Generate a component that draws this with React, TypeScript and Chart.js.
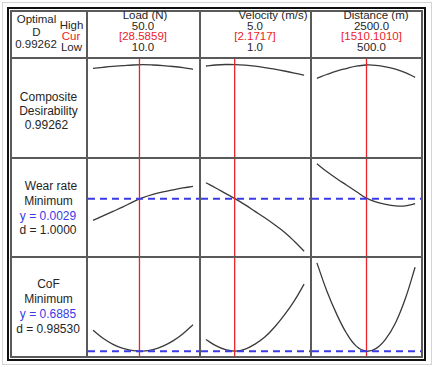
import React, { useEffect, useRef } from "react";
import { Chart, registerables } from "chart.js";

Chart.register(...registerables);

// ---- Data ----
const factorNames = ["Load (N)", "Velocity (m/s)", "Distance (m)"];
const factorLow = [10, 1, 500];
const factorHigh = [50, 5, 2500];
const factorCur = [28.5859, 2.1717, 1510.101];
const highLabels = ["50.0", "5.0", "2500.0"];
const curLabels = ["[28.5859]", "[2.1717]", "[1510.1010]"];
const lowLabels = ["10.0", "1.0", "500.0"];

const loadLevels = [10, 14, 18, 22, 26, 30, 34, 38, 42, 46, 50];
const velocityLevels = [1, 1.4, 1.8, 2.2, 2.6, 3.0, 3.4, 3.8, 4.2, 4.6, 5.0];
const distanceLevels = [500, 700, 900, 1100, 1300, 1500, 1700, 1900, 2100, 2300, 2500];

const compositeLoad = [0.951, 0.9625, 0.9727, 0.9807, 0.9886, 0.992, 0.9886, 0.9818, 0.9716, 0.958, 0.9398];
const compositeVelocity = [0.9773, 0.9886, 0.9943, 0.9932, 0.9864, 0.975, 0.9591, 0.9409, 0.9205, 0.8977, 0.8727];
const compositeDistance = [0.8375, 0.8807, 0.9205, 0.9489, 0.975, 0.9886, 0.9852, 0.9682, 0.9409, 0.9023, 0.8489];

const wearLoad = [0.00203, 0.00221, 0.00239, 0.00257, 0.00277, 0.00294, 0.00307, 0.00317, 0.00325, 0.00333, 0.00339];
const wearVelocity = [0.00354, 0.00333, 0.00311, 0.00289, 0.00265, 0.00239, 0.00213, 0.00185, 0.00155, 0.00119, 0.00079];
const wearDistance = [0.0043, 0.00399, 0.00371, 0.00345, 0.00319, 0.00293, 0.00277, 0.00267, 0.00261, 0.00261, 0.0027];

const cofLoad = [0.7299, 0.7141, 0.7021, 0.6939, 0.6895, 0.6887, 0.6917, 0.6985, 0.7089, 0.7231, 0.7411];
const cofVelocity = [0.7115, 0.6995, 0.6915, 0.6885, 0.6925, 0.7025, 0.7165, 0.7365, 0.7605, 0.7885, 0.8215];
const cofDistance = [0.8639, 0.8085, 0.7625, 0.7245, 0.6985, 0.6885, 0.6935, 0.7125, 0.7445, 0.7925, 0.8551];

const optimalD = "0.99262";
const wearTarget = 0.0029;
const cofTarget = 0.6885;
const wearLabel = ["Wear rate", "Minimum", "y = 0.0029", "d = 1.0000"];
const cofLabel = ["CoF", "Minimum", "y = 0.6885", "d = 0.98530"];

// ---- Layout ----
const FONT = '"Liberation Sans", Arial, sans-serif';
const BLACK = "#262626";
const RED = "#ec2228";
const BLUE = "#3a3ae6";
const GRID = "#5a5a5a";

const colX = [88, 201, 312];
const colW = [111, 109, 109];
const rowY = [59, 159, 258];
const rowH = [98, 97, 98];

function padRange(min: number, max: number, f: number) {
  const s = max - min;
  return [min - f * s, max + f * s];
}

type PanelProps = {
  left: number; top: number; w: number; h: number;
  xs: number[]; ys: number[]; lo: number; hi: number; cur: number;
  yMin: number; yMax: number; target?: number;
};

function Panel(p: PanelProps) {
  const ref = useRef<HTMLCanvasElement>(null);
  useEffect(() => {
    const span = p.hi - p.lo;
    const xMin = p.lo - 0.05 * span;
    const xMax = p.hi + 0.06 * span;
    const datasets: any[] = [];
    if (p.target !== undefined) {
      datasets.push({
        data: [{ x: xMin, y: p.target }, { x: xMax, y: p.target }],
        borderColor: BLUE, borderWidth: 2, borderDash: [7, 5], pointRadius: 0,
      });
    }
    datasets.push({
      data: [{ x: p.cur, y: p.yMin }, { x: p.cur, y: p.yMax }],
      borderColor: RED, borderWidth: 1.3, pointRadius: 0,
    });
    datasets.push({
      data: p.xs.map((v, i) => ({ x: v, y: p.ys[i] })),
      borderColor: "#3a3a3a", borderWidth: 1.3, pointRadius: 0, tension: 0.4,
    });
    const chart = new Chart(ref.current!, {
      type: "line",
      data: { datasets },
      options: {
        animation: false,
        responsive: false,
        maintainAspectRatio: false,
        devicePixelRatio: 1,
        layout: { padding: 0 },
        plugins: { legend: { display: false }, tooltip: { enabled: false }, title: { display: false } },
        scales: {
          x: { type: "linear", display: false, min: xMin, max: xMax },
          y: { type: "linear", display: false, min: p.yMin, max: p.yMax },
        },
      },
    });
    return () => chart.destroy();
  }, []);
  return (
    <canvas
      ref={ref}
      width={p.w}
      height={p.h}
      style={{ position: "absolute", left: p.left, top: p.top, width: p.w, height: p.h }}
    />
  );
}

function T(props: { x: number; y: number; text: string; color?: string; size?: number }) {
  return (
    <div
      style={{
        position: "absolute", left: props.x, top: props.y,
        transform: "translate(-50%, -50%)", whiteSpace: "nowrap",
        fontFamily: FONT, fontSize: props.size ?? 11.5, lineHeight: 1,
        color: props.color ?? BLACK,
      }}
    >
      {props.text}
    </div>
  );
}

function Line(props: { x: number; y: number; w: number; h: number; c?: string }) {
  return (
    <div style={{ position: "absolute", left: props.x, top: props.y, width: props.w, height: props.h, background: props.c ?? GRID }} />
  );
}

export default function App() {
  const levels = [loadLevels, velocityLevels, distanceLevels];
  const compRange = padRange(0, 1, 0.057);
  const wearAll = [...wearLoad, ...wearVelocity, ...wearDistance];
  const wearRange = padRange(Math.min(...wearAll), Math.max(...wearAll), 0.055);
  const cofAll = [...cofLoad, ...cofVelocity, ...cofDistance];
  const cofRange = padRange(Math.min(...cofAll), Math.max(...cofAll), 0.055);

  const rows = [
    { ys: [compositeLoad, compositeVelocity, compositeDistance], range: compRange, target: undefined as number | undefined },
    { ys: [wearLoad, wearVelocity, wearDistance], range: wearRange, target: wearTarget },
    { ys: [cofLoad, cofVelocity, cofDistance], range: cofRange, target: cofTarget },
  ];

  const titleX = [145, 273, 376];
  const numX = [143, 255, 371.5];

  return (
    <div style={{ position: "absolute", left: 0, top: 0, width: 434, height: 367, background: "#fff", overflow: "hidden" }}>
      {/* outer faint frame */}
      <div style={{ position: "absolute", left: 2, top: 2, width: 430, height: 363, border: "1px solid #d4d4d4", boxSizing: "border-box" }} />
      {/* black frame */}
      <div style={{ position: "absolute", left: 7, top: 7, width: 419, height: 354, border: "2px solid #111", boxSizing: "border-box" }} />
      {/* table border */}
      <div style={{ position: "absolute", left: 10, top: 10, width: 413, height: 348, border: "2px solid " + GRID, boxSizing: "border-box" }} />
      {/* vertical grid */}
      <Line x={86} y={10} w={2} h={348} />
      <Line x={199} y={10} w={2} h={348} />
      <Line x={310} y={10} w={2} h={348} />
      {/* horizontal grid */}
      <Line x={10} y={57} w={413} h={2} />
      <Line x={10} y={157} w={413} h={2} />
      <Line x={10} y={256} w={413} h={2} />

      {rows.map((r, ri) =>
        [0, 1, 2].map((ci) => (
          <Panel
            key={ri + "-" + ci}
            left={colX[ci]} top={rowY[ri]} w={colW[ci]} h={rowH[ri]}
            xs={levels[ci]} ys={r.ys[ci]}
            lo={factorLow[ci]} hi={factorHigh[ci]} cur={factorCur[ci]}
            yMin={r.range[0]} yMax={r.range[1]} target={r.target}
          />
        ))
      )}

      {/* header corner */}
      <T x={36.5} y={20} text="Optimal" />
      <T x={36.5} y={33} text="D" />
      <T x={36} y={45} text={optimalD} />
      <T x={71.5} y={26} text="High" />
      <T x={71} y={37} text="Cur" color={RED} />
      <T x={71.5} y={48} text="Low" />

      {/* factor headers */}
      {factorNames.map((n, i) => (
        <React.Fragment key={n}>
          <T x={titleX[i]} y={15.5} text={n} />
          <T x={numX[i]} y={26.5} text={highLabels[i]} />
          <T x={numX[i]} y={37} text={curLabels[i]} color={RED} />
          <T x={numX[i]} y={48} text={lowLabels[i]} />
        </React.Fragment>
      ))}

      {/* row labels */}
      <T x={48.5} y={96.7} text="Composite" size={12} />
      <T x={48.5} y={111} text="Desirability" size={12} />
      <T x={46.5} y={125} text={optimalD} size={12} />

      <T x={51} y={186} text={wearLabel[0]} size={12} />
      <T x={48.5} y={201} text={wearLabel[1]} size={12} />
      <T x={48} y={215.7} text={wearLabel[2]} size={12} color={BLUE} />
      <T x={48} y={230} text={wearLabel[3]} size={12} />

      <T x={48.5} y={284.3} text={cofLabel[0]} size={12} />
      <T x={48.5} y={299} text={cofLabel[1]} size={12} />
      <T x={48} y={313.5} text={cofLabel[2]} size={12} color={BLUE} />
      <T x={48} y={329} text={cofLabel[3]} size={12} />
    </div>
  );
}
